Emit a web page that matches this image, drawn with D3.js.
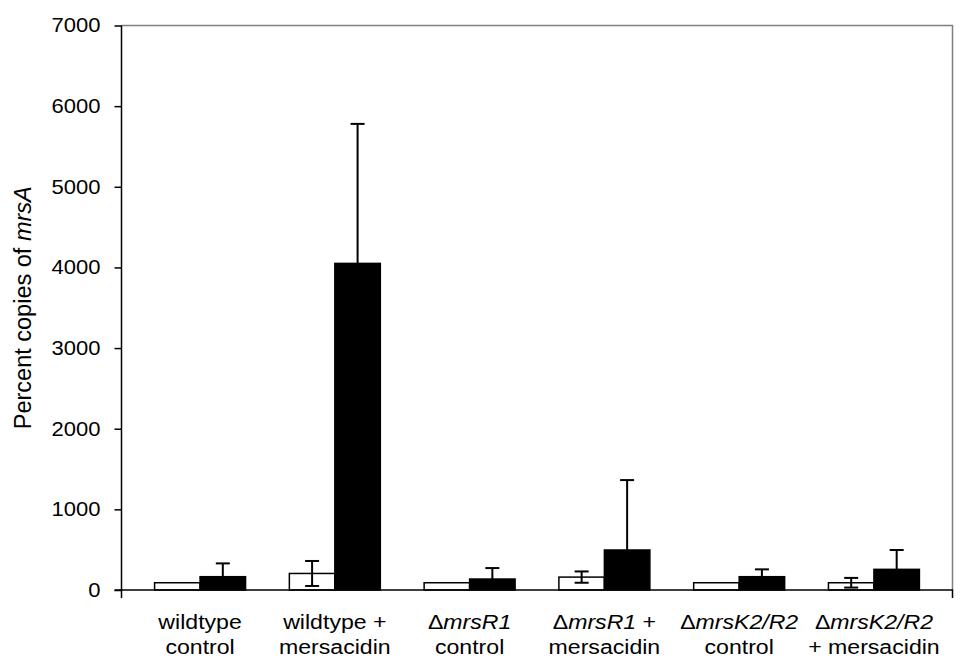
<!DOCTYPE html>
<html>
<head>
<meta charset="utf-8">
<script src="https://cdn.jsdelivr.net/npm/d3@7"></script>
<style>
  body { margin: 0; background: #fff; }
  text { font-family: "Liberation Sans", Arial, sans-serif; fill: #000; }
</style>
</head>
<body>
<div id="chart"></div>
<script>
// groups along the x axis, label lines (*...* = italic)
const groups = ["wt-ctrl", "wt-mers", "r1-ctrl", "r1-mers", "k2r2-ctrl", "k2r2-mers"];
const labelLines = [
  ["wildtype", "control"],
  ["wildtype +", "mersacidin"],
  ["Δ*mrsR1*", "control"],
  ["Δ*mrsR1* +", "mersacidin"],
  ["Δ*mrsK2/R2*", "control"],
  ["Δ*mrsK2/R2*", "+ mersacidin"]
];
const series = ["white", "black"];

// values
const whiteValues = [90, 205, 90, 160, 90, 90];
const whiteErrors = [0, 155, 0, 70, 0, 60];
const blackValues = [165, 4050, 136, 496, 165, 256];
const blackErrors = [165, 1730, 136, 867, 91, 240];

const yTicks = [0, 1000, 2000, 3000, 4000, 5000, 6000, 7000];

const w = 974;
const h = 658;
const margin = { top: 25.5, right: 21.5, bottom: 68, left: 121.5 };

const data = groups.map((g, i) => ({
  group: g,
  bars: [
    { s: "white", v: whiteValues[i], e: whiteErrors[i], both: true },
    { s: "black", v: blackValues[i], e: blackErrors[i], both: false }
  ]
}));

const svg = d3.select("#chart")
  .append("svg")
  .attr("width", w)
  .attr("height", h);

const xScale = d3.scaleBand()
  .domain(groups)
  .range([margin.left, w - margin.right])
  .paddingOuter(0.083);

const pairWidth = xScale.bandwidth() * 0.675;
const xSub = d3.scaleBand()
  .domain(series)
  .range([(xScale.bandwidth() - pairWidth) / 2, (xScale.bandwidth() + pairWidth) / 2]);

const yScale = d3.scaleLinear()
  .domain([0, 7000])
  .range([h - margin.bottom, margin.top]);

// frame (top + right, grey)
svg.append("path")
  .attr("d", `M${margin.left},${margin.top}H${w - margin.right}V${yScale(0)}`)
  .attr("fill", "none")
  .attr("stroke", "#808080")
  .attr("stroke-width", 1.5);

// bars
const groupG = svg.selectAll(".grp")
  .data(data)
  .enter()
  .append("g")
  .attr("class", "grp")
  .attr("transform", d => `translate(${xScale(d.group)},0)`);

groupG.selectAll("rect")
  .data(d => d.bars)
  .enter()
  .append("rect")
  .attr("x", d => xSub(d.s))
  .attr("y", d => yScale(d.v))
  .attr("width", xSub.bandwidth())
  .attr("height", d => yScale(0) - yScale(d.v))
  .attr("fill", d => d.s === "white" ? "#fff" : "#000")
  .attr("stroke", "#000")
  .attr("stroke-width", 1.5);

// error bars
const capHalf = 7;
const err = groupG.selectAll(".err")
  .data(d => d.bars.filter(b => b.e > 0))
  .enter()
  .append("g")
  .attr("class", "err")
  .attr("stroke", "#000")
  .attr("stroke-width", 2);

err.append("line")
  .attr("x1", d => xSub(d.s) + xSub.bandwidth() / 2)
  .attr("x2", d => xSub(d.s) + xSub.bandwidth() / 2)
  .attr("y1", d => yScale(d.both ? d.v - d.e : d.v))
  .attr("y2", d => yScale(d.v + d.e));

err.append("line")
  .attr("x1", d => xSub(d.s) + xSub.bandwidth() / 2 - capHalf)
  .attr("x2", d => xSub(d.s) + xSub.bandwidth() / 2 + capHalf)
  .attr("y1", d => yScale(d.v + d.e))
  .attr("y2", d => yScale(d.v + d.e));

err.filter(d => d.both).append("line")
  .attr("x1", d => xSub(d.s) + xSub.bandwidth() / 2 - capHalf)
  .attr("x2", d => xSub(d.s) + xSub.bandwidth() / 2 + capHalf)
  .attr("y1", d => yScale(d.v - d.e))
  .attr("y2", d => yScale(d.v - d.e));

// y axis
const yAxis = d3.axisLeft(yScale)
  .tickValues(yTicks)
  .tickSize(7)
  .tickPadding(14)
  .tickSizeOuter(0)
  .tickFormat(d3.format("d"));

const yG = svg.append("g")
  .attr("id", "y-axis")
  .attr("transform", `translate(${margin.left},0)`)
  .call(yAxis);

yG.select(".domain")
  .attr("d", `M0,${margin.top}V${yScale(0) + 8}`)
  .attr("stroke-width", 1.5);
yG.selectAll(".tick line").attr("stroke-width", 1.5);
yG.selectAll(".tick text")
  .style("font-size", "20px")
  .attr("x", -21 / 1.1)
  .attr("transform", "scale(1.1,1)");

// x axis line + end tick
svg.append("path")
  .attr("d", `M${margin.left - 7},${yScale(0)}H${w - margin.right}V${yScale(0) + 8}`)
  .attr("fill", "none")
  .attr("stroke", "#000")
  .attr("stroke-width", 1.5);

// category labels
const labels = svg.selectAll(".cat")
  .data(labelLines)
  .enter()
  .append("g")
  .attr("class", "cat")
  .attr("transform", (d, i) => `translate(${xScale(groups[i]) + xScale.bandwidth() / 2},0) scale(1.1,1)`);

labels.each(function(lines) {
  const g = d3.select(this);
  lines.forEach((line, li) => {
    const t = g.append("text")
      .attr("text-anchor", "middle")
      .attr("y", 629 + li * 25)
      .style("font-size", "21px");
    line.split("*").forEach((part, pi) => {
      if (part === "") return;
      t.append("tspan")
        .text(part)
        .style("font-style", pi % 2 === 1 ? "italic" : "normal");
    });
  });
});

// y label
const yLabel = svg.append("text")
  .attr("transform", `translate(31,${(margin.top + yScale(0)) / 2}) rotate(-90)`)
  .attr("text-anchor", "middle")
  .style("font-size", "23.5px");
yLabel.append("tspan").text("Percent copies of ");
yLabel.append("tspan").text("mrsA").style("font-style", "italic");
</script>
</body>
</html>
